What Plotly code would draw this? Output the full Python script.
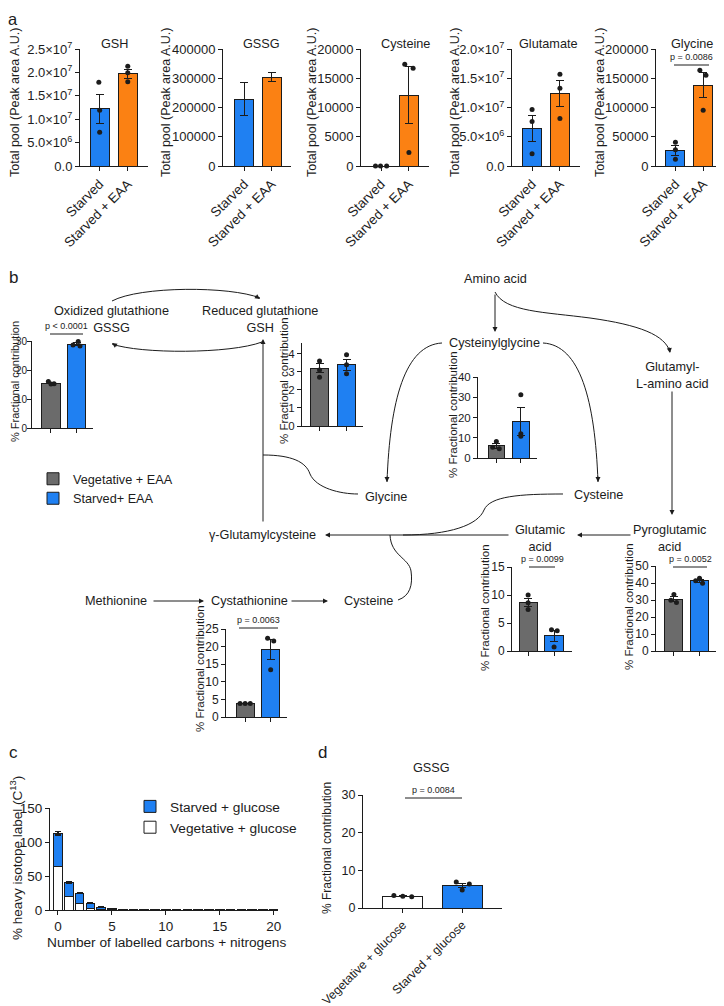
import plotly.graph_objects as go

W, H = 724, 1006
OFF = 8
FONT = "Liberation Sans, Arial, sans-serif"
INK = "#1c1c1c"
BLUE, ORANGE, GRAY, WHITE = "#1f80f2", "#fb8113", "#6b6b6b", "#ffffff"

# ---------------- panel a : total pools ----------------
a_groups = ["Starved", "Starved + EAA"]
gsh_mean, gsh_sem = [1.22e7, 1.97e7], [0.31e7, 0.095e7]
gsh_pts = [[1.79e7, 1.19e7, 0.72e7], [2.13e7, 1.99e7, 1.80e7]]
gssg_mean, gssg_sem = [229000, 304000], [56000, 15000]
cys_mean, cys_sem = [0, 12100], [0, 4900]
cys_pts = [[0, 0, 0], [17400, 16700, 2300]]
glu_mean, glu_sem = [6.45e6, 12.4e6], [2.2e6, 2.2e6]
glu_pts = [[9.65e6, 7.6e6, 2.1e6], [15.7e6, 13.3e6, 8.1e6]]
gly_mean, gly_sem = [26500, 138000], [8800, 21000]
gly_pts = [[40800, 27600, 11500], [163800, 155000, 95400]]

e_vals = [0, 5e6, 1e7, 1.5e7, 2e7, 2.5e7]
e_text = ["0.0", "5.0×10<sup>6</sup>", "1.0×10<sup>7</sup>", "1.5×10<sup>7</sup>",
          "2.0×10<sup>7</sup>", "2.5×10<sup>7</sup>"]
gssg_ticks = [0, 100000, 200000, 300000, 400000]
cys_ticks = [0, 5000, 10000, 15000, 20000]
gly_ticks = [0, 50000, 100000, 150000, 200000]

# ---------------- panel b : fractional contribution ----------------
b_groups = ["Vegetative + EAA", "Starved+ EAA"]
b_gssg_mean, b_gssg_sem = [15.5, 28.9], [0.3, 0.45]
b_gssg_pts = [[16.0, 15.3, 15.2], [29.8, 28.6, 28.3]]
b_gsh_mean, b_gsh_sem = [3.2, 3.4], [0.26, 0.3]
b_gsh_pts = [[3.6, 3.1, 2.7], [3.95, 3.4, 2.9]]
b_cg_mean, b_cg_sem = [6.0, 18.0], [1.2, 6.8]
b_cg_pts = [[8.2, 5.3, 4.6], [31.2, 12.0, 10.8]]
b_cth_mean, b_cth_sem = [3.8, 19.2], [0.05, 2.9]
b_cth_pts = [[3.8, 3.8, 3.8], [22.4, 21.6, 13.4]]
b_glu_mean, b_glu_sem = [8.7, 2.7], [0.75, 1.0]
b_glu_pts = [[10.0, 8.6, 7.4], [3.8, 3.6, 0.7]]
b_pyr_mean, b_pyr_sem = [30.5, 41.2], [1.4, 0.9]
b_pyr_pts = [[33.2, 29.8, 28.6], [42.8, 41.3, 39.8]]

# ---------------- panel c : isotopologue distribution ----------------
c_n = list(range(21))
c_veg = [64, 20, 10, 2, 1, 0.5, 0.3, 0.3, 0.2, 0.2, 0.2, 0.2, 0.2, 0.2, 0.4, 0.2, 0.2, 0.2, 0.4, 0.2, 0.2]
c_starved = [49, 20, 15, 8, 3, 1.2, 0.4, 0.3, 0.3, 0.2, 0.2, 0.2, 0.2, 0.3, 0.5, 0.2, 0.2, 0.3, 0.6, 0.3, 0.2]
c_starved_sem = [2.5, 1.0, 0.8, 0.5, 0.4, 0.2, 0, 0, 0, 0, 0, 0, 0, 0, 0, 0, 0, 0, 0, 0, 0]
c_groups = ["Vegetative + glucose", "Starved + glucose"]

# ---------------- panel d : GSSG fractional contribution ----------------
d_mean, d_sem = [3.1, 6.0], [0.1, 0.6]
d_pts = [[3.3, 3.1, 3.0], [6.9, 6.4, 4.8]]


def fx(x):
    return (x - OFF) / W


def fy(y):
    return 1 - (y - OFF) / H


fig = go.Figure()
n_ax = 0


def new_axes(x0, x1, ytop, ybot, xrange, yrange, yvals, ytext=None, xtext=None,
             tfont=12, xfont=12, xvals=(0, 1), ystandoff=0):
    global n_ax
    n_ax += 1
    s = "" if n_ax == 1 else str(n_ax)
    common = dict(showline=True, linecolor=INK, linewidth=1, ticks="outside", ticklen=4,
                  tickwidth=1, tickcolor=INK, showgrid=False, zeroline=False, automargin=False)
    xa = dict(common, domain=[fx(x0), fx(x1)], range=xrange, anchor="y" + s,
              tickvals=list(xvals), tickfont=dict(size=xfont, color=INK, family=FONT))
    if xtext is None:
        xa["showticklabels"] = False
    elif xtext != "num":
        xa.update(ticktext=xtext, tickangle=-45)
    ya = dict(common, domain=[fy(ybot), fy(ytop)], range=yrange, anchor="x" + s,
              tickvals=yvals, ticktext=ytext if ytext else [str(v) for v in yvals],
              tickfont=dict(size=tfont, color=INK, family=FONT), ticklabelstandoff=ystandoff)
    fig.update_layout({"xaxis" + s: xa, "yaxis" + s: ya})
    return "x" + s, "y" + s


def bars(ax, means, sems, colors, width, pts=None, jit=None, names=None, legend=None):
    xa, ya = ax
    for i in range(2):
        fig.add_trace(go.Bar(
            x=[i], y=[means[i]], width=width, xaxis=xa, yaxis=ya,
            marker=dict(color=colors[i], line=dict(color=INK, width=1)),
            error_y=dict(type="data", array=[sems[i]], color=INK, thickness=1, width=4),
            name=names[i] if names else "", showlegend=legend is not None,
            legend=legend or "legend"))
    if pts:
        for i in range(2):
            fig.add_trace(go.Scatter(
                x=[i + j for j in jit[i]], y=pts[i], mode="markers", xaxis=xa, yaxis=ya,
                marker=dict(color=INK, size=5), showlegend=False, cliponaxis=False))


def label(text, x, y, size=12.7, angle=0, xanchor="center", yanchor="middle"):
    fig.add_annotation(text=text, x=fx(x), y=fy(y), xref="paper", yref="paper",
                       showarrow=False, textangle=angle, xanchor=xanchor, yanchor=yanchor,
                       font=dict(size=size, color=INK, family=FONT))


def pval(text, x0, x1, y):
    fig.add_shape(type="line", xref="paper", yref="paper", x0=fx(x0), x1=fx(x1),
                  y0=fy(y), y1=fy(y), line=dict(color=INK, width=1))
    label(text, (x0 + x1) / 2, y - 1, size=9, yanchor="bottom")


def path(*parts):
    out = []
    for p in parts:
        out.append(p if isinstance(p, str) else f"{fx(p[0]):.5f},{fy(p[1]):.5f}")
    return " ".join(out)


def curve(*parts):
    fig.add_shape(type="path", xref="paper", yref="paper", path=path(*parts),
                  line=dict(color=INK, width=1))


def arrow(xt, yt, xh, yh):
    fig.add_annotation(x=fx(xh), y=fy(yh), xref="paper", yref="paper", text="",
                       showarrow=True, ax=xt - xh, ay=yt - yh, arrowhead=2,
                       arrowsize=1, arrowwidth=1, arrowcolor=INK, standoff=0)


J0 = [[0, 0, 0], [0, 0, 0]]

# ---------- panel a ----------
AC = [BLUE, ORANGE]
A_KW = dict(tfont=13, xfont=13.5)
ax = new_axes(80, 148, 49, 166, [-0.7, 1.72], [0, 2.5e7], e_vals, e_text, a_groups, **A_KW)
bars(ax, gsh_mean, gsh_sem, AC, 0.68, gsh_pts, [[-0.03, 0.0, 0.0], [0.0, 0.0, 0.0]])
ax = new_axes(223, 291, 49, 166, [-0.77, 1.7], [0, 4e5], gssg_ticks, None, a_groups, **A_KW)
bars(ax, gssg_mean, gssg_sem, AC, 0.7)
ax = new_axes(361, 429, 49, 166, [-0.72, 1.72], [0, 20000], cys_ticks, None, a_groups, **A_KW)
bars(ax, cys_mean, cys_sem, AC, 0.68, cys_pts, [[-0.2, -0.02, 0.2], [-0.15, 0.15, 0.0]])
ax = new_axes(512, 580, 49, 166, [-0.72, 1.72], [0, 2e7], e_vals[:5], e_text[:5], a_groups, **A_KW)
bars(ax, glu_mean, glu_sem, AC, 0.68, glu_pts, J0)
ax = new_axes(656, 724, 49, 166, [-0.7, 1.75], [0, 2e5], gly_ticks, None, a_groups, **A_KW)
bars(ax, gly_mean, gly_sem, AC, 0.68, gly_pts, [[0, 0, 0], [-0.12, 0.1, 0]])
for t, x in zip(["GSH", "GSSG", "Cysteine", "Glutamate", "Glycine"], [115, 261, 405, 548, 692]):
    label(t, x, 44)
for x in [15, 166, 312, 455, 600]:
    label("Total pool (Peak area A.U.)", x, 103, size=12.5, angle=-90)
pval("p = 0.0086", 674, 709, 65)

# ---------- panel b ----------
BC = [GRAY, BLUE]
ax = new_axes(32, 93, 341, 428, [-0.73, 1.62], [0, 30], [0, 10, 20, 30], tfont=10, ystandoff=-2)
bars(ax, b_gssg_mean, b_gssg_sem, BC, 0.7, b_gssg_pts, [[-0.1, 0.12, 0], [0.05, -0.15, 0.12]],
     names=b_groups, legend="legend2")
ax = new_axes(302, 363, 343, 426, [-0.65, 1.61], [0, 4.6], [0, 1, 2, 3, 4], tfont=11.5)
bars(ax, b_gsh_mean, b_gsh_sem, BC, 0.65, b_gsh_pts, J0)
ax = new_axes(478, 537, 377, 458, [-0.75, 1.66], [0, 40], [0, 10, 20, 30, 40], tfont=11.5)
bars(ax, b_cg_mean, b_cg_sem, BC, 0.68, b_cg_pts, [[0, -0.15, 0.12], [0, 0, 0]])
ax = new_axes(226, 287, 629, 717, [-0.75, 1.64], [0, 25], [0, 5, 10, 15, 20, 25])
bars(ax, b_cth_mean, b_cth_sem, BC, 0.7, b_cth_pts, [[-0.2, 0, 0.2], [-0.12, 0.12, 0]])
ax = new_axes(512, 572, 567, 651, [-0.62, 1.69], [0, 15], [0, 5, 10, 15])
bars(ax, b_glu_mean, b_glu_sem, BC, 0.7, b_glu_pts, [[0, 0, 0], [-0.1, 0.12, 0]])
ax = new_axes(656, 720, 566, 651, [-0.7, 1.8], [0, 50], [0, 10, 20, 30, 40, 50])
bars(ax, b_pyr_mean, b_pyr_sem, BC, 0.7, b_pyr_pts, [[0, -0.12, 0.1], [0, -0.15, 0.12]])
label("% Fractional contribution", 15, 382, size=11, angle=-90)
for x, y in [(284, 381), (453, 414), (200, 669), (485, 607), (629, 607)]:
    label("% Fractional contribution", x, y, size=11.5, angle=-90)
pval("p < 0.0001", 50, 83, 334)
pval("p = 0.0063", 239, 278, 628)
pval("p = 0.0099", 529, 555, 567)
pval("p = 0.0052", 673, 707, 567)

# pathway labels
for t, x, y in [("Oxidized glutathione<br>GSSG", 111, 320), ("Reduced glutathione<br>GSH", 260, 320),
                ("Amino acid", 495, 279), ("Cysteinylglycine", 494, 343),
                ("Glutamyl-<br>L-amino acid", 672, 375), ("Glycine", 386, 497),
                ("Cysteine", 598, 495), ("Glutamic<br>acid", 540, 538),
                ("Pyroglutamic<br>acid", 670, 538), ("γ-Glutamylcysteine", 262, 535),
                ("Methionine", 116, 601), ("Cystathionine", 249, 601), ("Cysteine", 368, 601)]:
    label(t, x, y)

# pathway connectors
curve("M", (112, 301), "C", (140, 286), (230, 286), (260, 298))
arrow(254, 295, 260, 299)
curve("M", (262, 342), "C", (230, 354), (140, 354), (112, 344))
arrow(118, 347, 112, 343)
arrow(263, 523, 263, 339)
curve("M", (263, 455), "C", (292, 455), (306, 462), (310, 474), "C", (316, 488), (340, 494), (358, 494))
arrow(495, 293, 495, 332)
curve("M", (495, 292), "C", (505, 312), (545, 312), (590, 318), "C", (640, 325), (665, 335), (670, 352))
arrow(669, 346, 670, 353)
curve("M", (442, 343), "C", (405, 345), (390, 400), (387, 482))
arrow(387, 475, 387, 482)
curve("M", (543, 343), "C", (580, 345), (595, 400), (598, 482))
arrow(598, 475, 598, 482)
arrow(672, 390, 672, 515)
arrow(632, 535, 577, 535)
arrow(510, 535, 325, 535)
curve("M", (563, 494), "C", (520, 494), (490, 496), (484, 510), "C", (478, 525), (450, 535), (403, 535))
curve("M", (398, 600), "C", (410, 596), (413, 585), (411, 571), "C", (409, 558), (391, 556), (390, 535))
arrow(152, 601, 204, 601)
arrow(290, 601, 328, 601)

# ---------- panel c ----------
ax = new_axes(50, 278, 808, 910, [-0.74, 20.4], [0, 150], [0, 50, 100, 150],
              xtext="num", tfont=13.5, xfont=13.5, xvals=[0, 5, 10, 15, 20])
fig.add_trace(go.Bar(x=c_n, y=c_veg, width=0.8, xaxis=ax[0], yaxis=ax[1], name=c_groups[0],
                     marker=dict(color=WHITE, line=dict(color=INK, width=1))))
fig.add_trace(go.Bar(x=c_n, y=c_starved, width=0.8, xaxis=ax[0], yaxis=ax[1], name=c_groups[1],
                     marker=dict(color=BLUE, line=dict(color=INK, width=1)),
                     error_y=dict(type="data", array=c_starved_sem, color=INK, thickness=1.5, width=3)))
label("% heavy isotope label (C<sup>13</sup>)", 16, 858, size=13.5, angle=-90)
label("Number of labelled carbons + nitrogens", 166, 942, size=13.7)

# ---------- panel d ----------
ax = new_axes(363, 502, 795, 908, [-0.67, 1.67], [0, 30], [0, 10, 20, 30],
              xtext=c_groups, tfont=12.5, xfont=12.2)
bars(ax, d_mean, d_sem, [WHITE, BLUE], 0.67, d_pts, [[-0.15, 0.0, 0.15], [-0.1, 0.12, 0.0]])
label("GSSG", 432, 768)
label("% Fractional contribution", 327, 848, size=12, angle=-90)
pval("p = 0.0084", 405, 462, 798)

label("a", 13, 8.5, size=16.5, yanchor="top")
for t, x, y in [("b", 13, 277), ("c", 13, 752), ("d", 322, 752)]:
    label(t, x, y, size=17)

fig.update_layout(
    width=W, height=H, margin=dict(l=0, r=0, t=0, b=0, autoexpand=False),
    paper_bgcolor="white", plot_bgcolor="white", barmode="stack",
    font=dict(family=FONT, color=INK),
    legend=dict(x=fx(130), y=fy(791), xanchor="left", yanchor="top", traceorder="reversed",
                font=dict(size=13.7, color=INK, family=FONT), bgcolor="rgba(0,0,0,0)"),
    legend2=dict(x=fx(33), y=fy(464), xanchor="left", yanchor="top", traceorder="normal",
                 font=dict(size=12.7, color=INK, family=FONT), bgcolor="rgba(0,0,0,0)"),
)
fig.write_html("out.html")
